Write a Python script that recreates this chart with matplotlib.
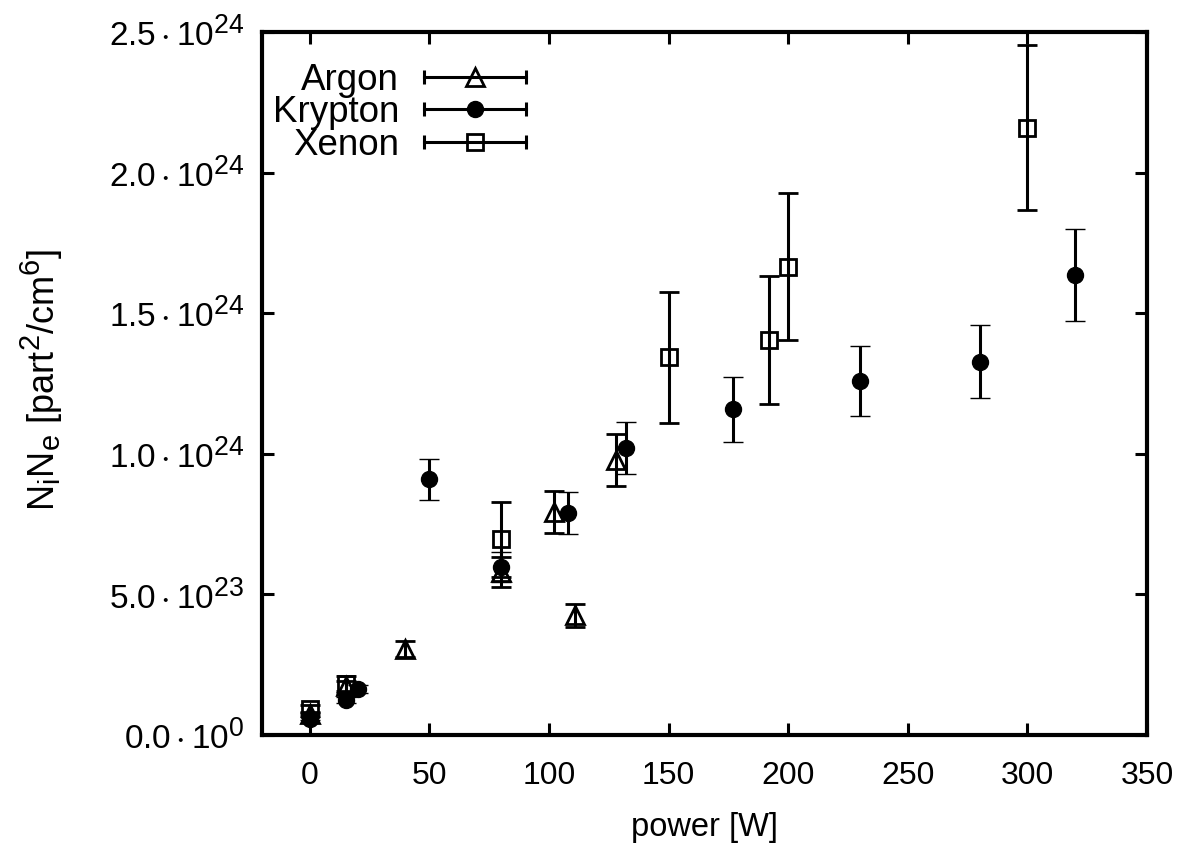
import matplotlib
matplotlib.use('Agg')
import matplotlib.pyplot as plt
import matplotlib._mathtext as mathtext_interno
from matplotlib.lines import Line2D
from matplotlib.legend_handler import HandlerBase
from matplotlib.container import ErrorbarContainer

plt.rcParams['font.family'] = 'Liberation Sans'
plt.rcParams['mathtext.fontset'] = 'custom'
plt.rcParams['mathtext.rm'] = 'Liberation Sans'
plt.rcParams['mathtext.it'] = 'Liberation Sans:italic'
# subindices/superindices un poco mas grandes, como en gnuplot
mathtext_interno.SHRINK_FACTOR = 0.8

# datos (potencia en W, NiNe en part^2/cm^6)
argon_p = [0, 15, 40, 80, 102, 111, 128]
argon_n = [0.075e24, 0.175e24, 0.305e24, 0.580e24, 0.794e24, 0.425e24, 0.978e24]
argon_err = [0.007e24, 0.017e24, 0.028e24, 0.054e24, 0.075e24, 0.040e24, 0.093e24]

krypton_p = [0, 15, 20, 50, 80, 108, 132, 177, 230, 280, 320]
krypton_n = [0.058e24, 0.124e24, 0.163e24, 0.909e24, 0.598e24, 0.790e24,
             1.020e24, 1.158e24, 1.260e24, 1.328e24, 1.636e24]
krypton_err = [0.005e24, 0.010e24, 0.013e24, 0.074e24, 0.054e24, 0.075e24,
               0.093e24, 0.115e24, 0.124e24, 0.131e24, 0.163e24]

xenon_p = [0, 15, 80, 150, 192, 200, 300]
xenon_n = [0.0925e24, 0.181e24, 0.696e24, 1.343e24, 1.405e24, 1.665e24, 2.160e24]
xenon_err = [0.015e24, 0.030e24, 0.134e24, 0.233e24, 0.228e24, 0.262e24, 0.293e24]

x_ticks = [0, 50, 100, 150, 200, 250, 300, 350]
y_ticks = [0, 0.5e24, 1.0e24, 1.5e24, 2.0e24, 2.5e24]
y_labels = [r'$\mathregular{0.0\cdot10^{0}}$', r'$\mathregular{5.0\cdot10^{23}}$',
            r'$\mathregular{1.0\cdot10^{24}}$', r'$\mathregular{1.5\cdot10^{24}}$',
            r'$\mathregular{2.0\cdot10^{24}}$', r'$\mathregular{2.5\cdot10^{24}}$']


# leyenda estilo gnuplot: linea horizontal con topes y el simbolo en medio
class ClaveGnuplot(HandlerBase):
    def create_artists(self, legend, orig_handle, xdescent, ydescent,
                       width, height, fontsize, trans):
        src = orig_handle[0]
        y = height / 2 - ydescent
        x0, x1 = -xdescent, width - xdescent
        barra = Line2D([x0, x1], [y, y], color='black', lw=2.2,
                       marker='|', ms=10, mew=2.2)
        punto = Line2D([(x0 + x1) / 2], [y], ls='none',
                       marker=src.get_marker(), ms=src.get_markersize(),
                       mfc=src.get_markerfacecolor(),
                       mec=src.get_markeredgecolor(),
                       mew=src.get_markeredgewidth())
        barra.set_transform(trans)
        punto.set_transform(trans)
        return [barra, punto]


fig = plt.figure(figsize=(12, 8.57), dpi=100)
ax = fig.add_axes([0.2183, 0.1424, 0.7375, 0.8203])

estilo = dict(ecolor='black', elinewidth=2.2, capsize=7, capthick=2.2, ls='none')
ax.errorbar(argon_p, argon_n, yerr=argon_err, marker='^', ms=13.5, mfc='none',
            mec='black', mew=2, label='Argon', **estilo)
ax.errorbar(krypton_p, krypton_n, yerr=krypton_err, marker='o', ms=11.5,
            mfc='black', mec='black', mew=1, label='Krypton', **estilo)
ax.errorbar(xenon_p, xenon_n, yerr=xenon_err, marker='s', ms=12, mfc='none',
            mec='black', mew=2, label='Xenon', **estilo)

ax.set_xlim(-20, 350)
ax.set_ylim(0, 2.5e24)
ax.set_xticks(x_ticks)
ax.set_yticks(y_ticks)
ax.set_yticklabels(y_labels)

ax.tick_params(direction='in', length=8.5, width=2.2, top=True, right=True)
ax.tick_params(axis='x', pad=19, labelsize=23)
ax.tick_params(axis='y', pad=13, labelsize=24)
for s in ax.spines.values():
    s.set_linewidth(3)

ax.set_xlabel('power [W]', fontsize=23.5, va='top')
ax.xaxis.set_label_coords(0.5, -0.109)
ax.set_ylabel(r'N$_\mathregular{i}$N$_\mathregular{e}$ [part$^2$/cm$^6$]',
              fontsize=26)
ax.yaxis.set_label_coords(-0.222, 0.505)

ax.legend(loc='upper left', bbox_to_anchor=(0.012, 0.956), borderaxespad=0,
          borderpad=0, frameon=False, markerfirst=False, fontsize=26.5,
          handlelength=2.77, handletextpad=0.68, labelspacing=-0.07,
          handler_map={ErrorbarContainer: ClaveGnuplot()})

fig.savefig('out.png', dpi=100)
